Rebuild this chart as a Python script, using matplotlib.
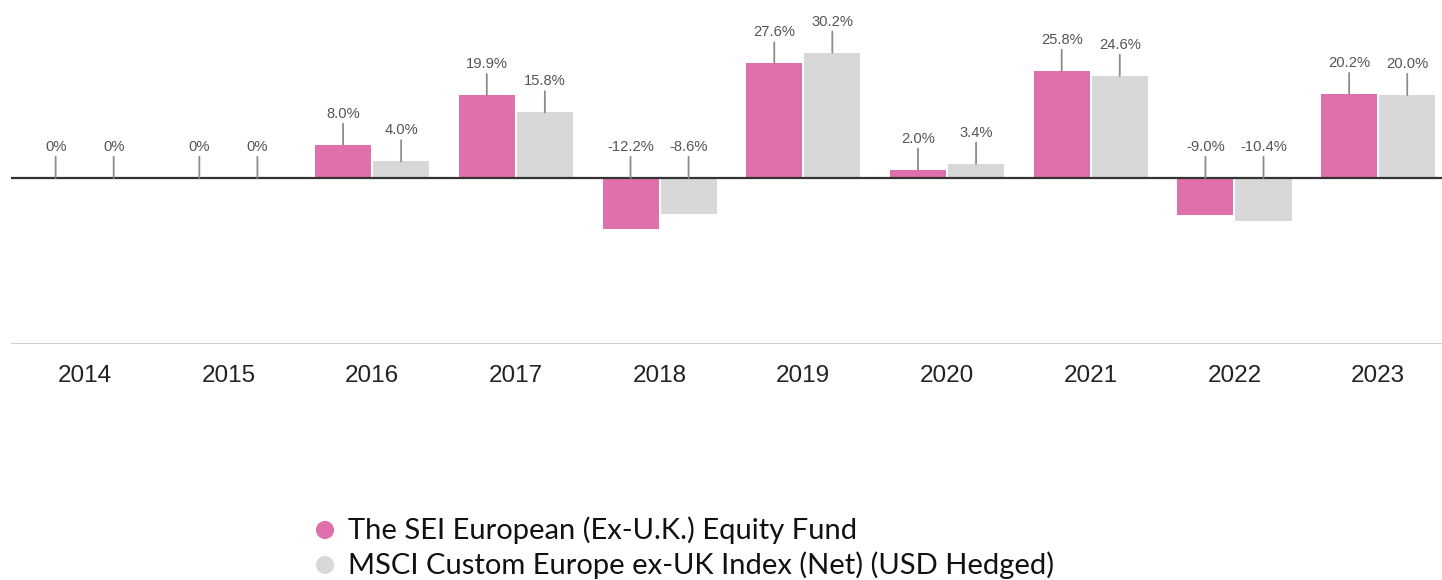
import matplotlib
matplotlib.use('Agg')
import matplotlib.pyplot as plt
import numpy as np

# --- data ---
years = ['2014', '2015', '2016', '2017', '2018', '2019', '2020', '2021', '2022', '2023']
fund = [0.0, 0.0, 8.0, 19.9, -12.2, 27.6, 2.0, 25.8, -9.0, 20.2]
index = [0.0, 0.0, 4.0, 15.8, -8.6, 30.2, 3.4, 24.6, -10.4, 20.0]
fund_name = 'The SEI European (Ex-U.K.) Equity Fund'
index_name = 'MSCI Custom Europe ex-UK Index (Net) (USD Hedged)'

PINK = '#E070AC'
GREY = '#D8D8D8'
W, H = 1442, 580

fig = plt.figure(figsize=(W / 100, H / 100), dpi=100)
# axes placed in pixels: left 11, top 0, bottom 344
ax = fig.add_axes([11 / W, (H - 344) / H, (W - 11) / W, 344 / H])

x = np.arange(len(years))
bw = 0.39
off = 0.202
ax.bar(x - off, fund, bw, color=PINK, zorder=2)
ax.bar(x + off, index, bw, color=GREY, zorder=2)

ax.set_xlim(-0.5125, 9.444)
ax.set_ylim(-40, 42.9)

# zero line and bottom line
ax.axhline(0, color='#333333', lw=1.6, zorder=3)
ax.axhline(-40, color='#C0C0C0', lw=1.8, zorder=3)

for s in ax.spines.values():
    s.set_visible(False)
ax.set_yticks([])
ax.set_xticks([])

# value labels with leader lines
def label_bars(xs, vals):
    for xi, v in zip(xs, vals):
        top = max(v, 0)
        txt = '0%' if v == 0 else f'{v:.1f}%'
        ax.annotate(txt, xy=(xi, top), xytext=(0, 24), textcoords='offset pixels',
                    ha='center', va='bottom', fontsize=10.6, color='#555555',
                    family='Liberation Sans',
                    arrowprops=dict(arrowstyle='-', color='#8C8C8C', lw=1.3,
                                    shrinkA=0, shrinkB=0),
                    zorder=4)

label_bars(x - off, fund)
label_bars(x + off, index)

# year labels
for xi, yr in zip(x, years):
    ax.annotate(yr, xy=(xi, -40), xytext=(0, -32), textcoords='offset pixels',
                ha='center', va='center', fontsize=17.5, color='#222222',
                family='Liberation Sans', annotation_clip=False)

# legend in pixel coordinates
lg = fig.add_axes([0, 0, 1, 1])
lg.set_xlim(0, W)
lg.set_ylim(H, 0)
lg.axis('off')
for yy, c, name in [(530, PINK, fund_name), (565, GREY, index_name)]:
    lg.scatter([325], [yy], s=170, color=c, edgecolors='none')
    lg.text(348, yy, name, fontsize=21, family='Lato', color='#111111',
            va='center', ha='left')

fig.savefig('out.png', dpi=100)
